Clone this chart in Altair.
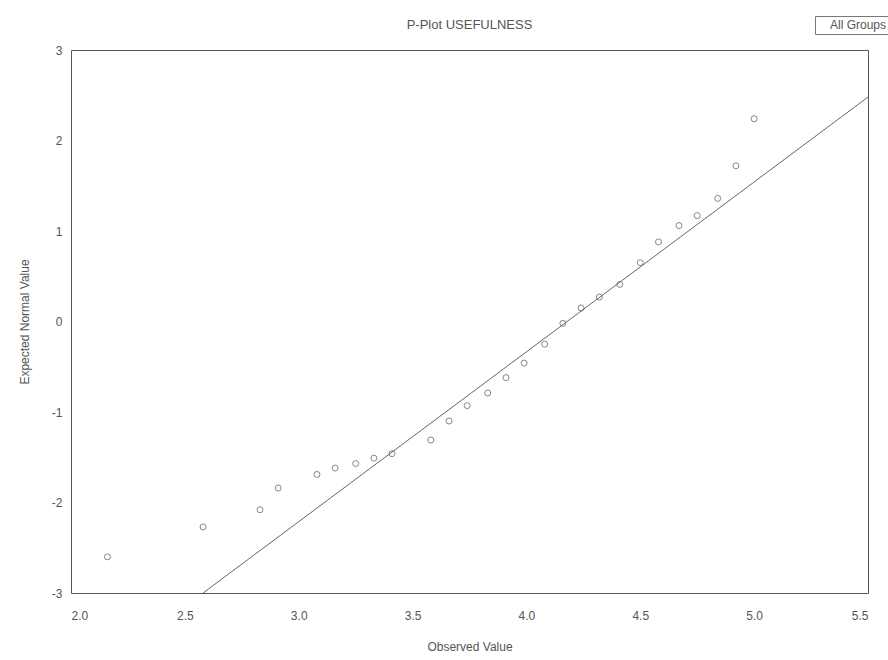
import altair as alt
import pandas as pd

# observed values (x) and expected normal values (y)
observed = [2.16, 2.58, 2.83, 2.91, 3.08, 3.16, 3.25, 3.33, 3.41, 3.58, 3.66, 3.74,
            3.83, 3.91, 3.99, 4.08, 4.16, 4.24, 4.32, 4.41, 4.50, 4.58, 4.67, 4.75,
            4.84, 4.92, 5.00]
expected = [-2.60, -2.27, -2.08, -1.84, -1.69, -1.62, -1.57, -1.51, -1.46, -1.31, -1.10, -0.93,
            -0.79, -0.62, -0.46, -0.25, -0.02, 0.15, 0.27, 0.41, 0.65, 0.88, 1.06, 1.17,
            1.36, 1.72, 2.24]
group = ["All Groups"] * len(observed)

# reference line end points
line_x = [2.58, 5.50]
line_y = [-3.00, 2.48]

x_ticks = [2.0, 2.5, 3.0, 3.5, 4.0, 4.5, 5.0, 5.5]
y_ticks = [3, 2, 1, 0, -1, -2, -3]

pts = pd.DataFrame({"obs": observed, "exp": expected, "grp": group})
ln = pd.DataFrame({"obs": line_x, "exp": line_y})

FONT = "Liberation Sans"
TXT = "#555555"

xs = alt.Scale(domain=[2.0, 5.5], nice=False, zero=False)
ys = alt.Scale(domain=[-3, 3], nice=False, zero=False)

xaxis = alt.Axis(values=x_ticks, format=".1f", grid=False, ticks=False, domain=False,
                 labelPadding=17, labelFontSize=12, labelColor=TXT, labelFont=FONT,
                 title="Observed Value", titleFont=FONT, titleFontSize=12,
                 titleFontWeight="normal", titleColor=TXT, titlePadding=20)
yaxis = alt.Axis(values=y_ticks, grid=False, ticks=False, domain=False,
                 labelPadding=9, labelFontSize=12, labelColor=TXT, labelFont=FONT,
                 labelExpr="datum.value < 0 ? '-' + abs(datum.value) : '' + datum.value",
                 title="Expected Normal Value", titleFont=FONT, titleFontSize=12,
                 titleFontWeight="normal", titleColor=TXT, titlePadding=20)

points = alt.Chart(pts).mark_point(shape="circle", filled=False, size=36, strokeWidth=1).encode(
    x=alt.X("obs:Q", scale=xs, axis=xaxis),
    y=alt.Y("exp:Q", scale=ys, axis=yaxis),
    color=alt.Color("grp:N", scale=alt.Scale(range=["#555555"]),
                    legend=alt.Legend(title=None, orient="none", legendX=744, legendY=-34,
                                      strokeColor="#777777", padding=3, symbolSize=0,
                                      symbolStrokeWidth=0, labelOffset=0,
                                      labelFont=FONT, labelFontSize=12, labelColor=TXT,
                                      fillColor="white")),
)

refline = alt.Chart(ln).mark_line(color="#666666", strokeWidth=1, clip=True).encode(
    x=alt.X("obs:Q", scale=xs),
    y=alt.Y("exp:Q", scale=ys),
)

chart = alt.layer(refline, points).properties(
    width=797, height=543,
    title=alt.TitleParams("P-Plot USEFULNESS", font=FONT, fontSize=13, fontWeight="normal",
                          color=TXT, anchor="middle", offset=0, dy=16),
    autosize=alt.AutoSizeParams(type="none"),
    padding={"left": 71, "top": 50, "right": 20, "bottom": 67},
    background="white",
).configure_view(stroke="#555555", strokeWidth=1)

chart.save("out.html", embed_options={"renderer": "svg", "actions": False})
